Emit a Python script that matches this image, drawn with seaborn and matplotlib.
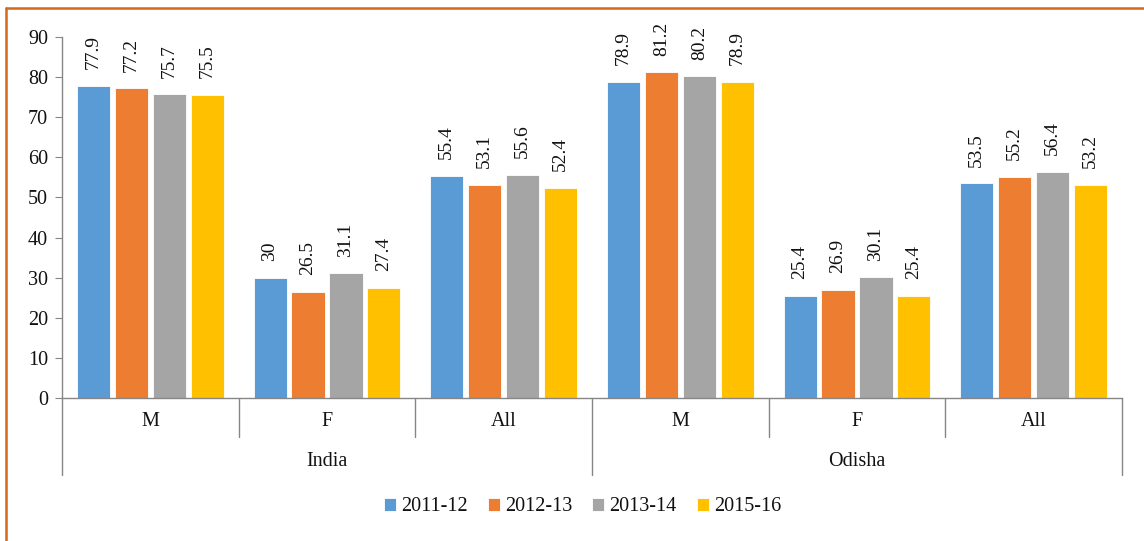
import numpy as np
import matplotlib.pyplot as plt
import matplotlib.transforms as mtransforms
from matplotlib.lines import Line2D
import pandas as pd
import seaborn as sns

# data
regions = ['India', 'India', 'India', 'Odisha', 'Odisha', 'Odisha']
groups = ['M', 'F', 'All', 'M', 'F', 'All']
years = ['2011-12', '2012-13', '2013-14', '2015-16']
v_2011 = [77.9, 30, 55.4, 78.9, 25.4, 53.5]
v_2012 = [77.2, 26.5, 53.1, 81.2, 26.9, 55.2]
v_2013 = [75.7, 31.1, 55.6, 80.2, 30.1, 56.4]
v_2015 = [75.5, 27.4, 52.4, 78.9, 25.4, 53.2]
colors = ['#5B9BD5', '#ED7D31', '#A5A5A5', '#FFC000']

keys = [r + ' ' + g for r, g in zip(regions, groups)]
rows = []
for yr, vals in zip(years, [v_2011, v_2012, v_2013, v_2015]):
    for k, v in zip(keys, vals):
        rows.append({'key': k, 'year': yr, 'value': v})
df = pd.DataFrame(rows)

sns.set_style('white')
plt.rcParams['font.family'] = ['Liberation Serif', 'DejaVu Serif']
txt = '#111111'

fig = plt.figure(figsize=(11.44, 5.41), dpi=100)
ax = fig.add_axes([62 / 1144, 1 - 398 / 541, (1122 - 62) / 1144, 361 / 541])

sns.barplot(data=df, x='key', y='value', hue='year', palette=colors, order=keys,
            hue_order=years, width=0.86, gap=0.13, ax=ax, legend=True,
            edgecolor='white', linewidth=0.6, saturation=1)

for c in ax.containers:
    ax.bar_label(c, fmt='%g', rotation=90, padding=12, fontsize=14, color=txt)

ax.set_ylim(0, 90)
ax.set_xlim(-0.5, 5.5)
ax.set_yticks(range(0, 91, 10))
ax.tick_params(axis='y', labelsize=14.5, length=5, color='#868686', direction='out',
               left=True, pad=5, labelcolor=txt)
ax.tick_params(axis='x', length=0, labelbottom=False)
ax.set_xlabel('')
ax.set_ylabel('')
for s in ['top', 'right']:
    ax.spines[s].set_visible(False)
for s in ['left', 'bottom']:
    ax.spines[s].set_color('#868686')
    ax.spines[s].set_linewidth(1)

# multi-level category axis
trans = mtransforms.blended_transform_factory(ax.transData, ax.transAxes)
for i, g in enumerate(groups):
    ax.text(i, -0.066, g, transform=trans, ha='center', va='center', fontsize=14.5, color=txt)
ax.text(1, -0.177, 'India', transform=trans, ha='center', va='center', fontsize=14.5, color=txt)
ax.text(4, -0.177, 'Odisha', transform=trans, ha='center', va='center', fontsize=14.5, color=txt)
for b in np.arange(-0.5, 6, 1.0):
    low = -0.213 if b in (-0.5, 2.5, 5.5) else -0.108
    ax.plot([b, b], [0, low], transform=trans, color='#868686', lw=1, clip_on=False)

# legend
handles, labels = ax.get_legend_handles_labels()
ax.get_legend().remove()
leg = fig.legend(handles, labels, loc='center', bbox_to_anchor=(0.509, 0.063), ncol=4,
                 frameon=False, fontsize=14.5, handlelength=0.6, handleheight=0.6,
                 handletextpad=0.25, columnspacing=1.0)
for t in leg.get_texts():
    t.set_color(txt)

# orange frame (top and left)
fig.add_artist(Line2D([6 / 1144, 1], [1 - 8 / 541, 1 - 8 / 541], color='#D2691E', lw=1.8))
fig.add_artist(Line2D([6 / 1144, 6 / 1144], [0, 1 - 8 / 541], color='#D2691E', lw=1.8))

fig.savefig('out.png', dpi=100)
